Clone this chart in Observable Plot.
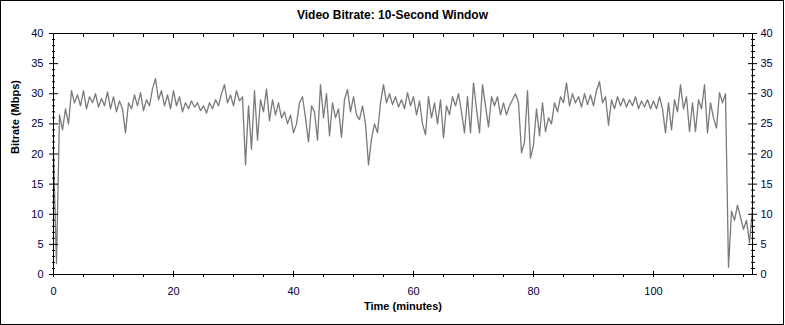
<!DOCTYPE html>
<html>
<head>
<meta charset="utf-8">
<script src="https://cdn.jsdelivr.net/npm/d3@7"></script>
<script src="https://cdn.jsdelivr.net/npm/@observablehq/plot@0.6"></script>
<style>
  html, body { margin: 0; padding: 0; background: #ffffff; }
  #wrap { position: relative; width: 785px; height: 325px; background: #ffffff; overflow: hidden;
          font-family: "Liberation Sans", Arial, sans-serif; }
  #border { position: absolute; left: 0; top: 0; width: 784px; height: 325px; box-sizing: border-box;
            border: 1px solid #000; pointer-events: none; }
  #title { position: absolute; left: 0; top: 7px; width: 785px; text-align: center;
           font: bold 12px "Liberation Sans", Arial, sans-serif; line-height: 16px; color: #000; }
  #chart { position: absolute; left: 0; top: 24px; }
</style>
</head>
<body>
<div id="wrap">
  <div id="title">Video Bitrate: 10-Second Window</div>
  <div id="chart"></div>
  <div id="border"></div>
</div>
<script>
// Sampling step of the read-off series (minutes)
const minutesStep = 0.5;

// Bitrate (Mbps), one value every 0.5 minute
const bitrate = [
  20, 1.8, 26.5, 24, 27.5, 25, 30.5, 28.5, 29.8, 28,
  30.5, 27.5, 29.5, 28.5, 30, 27.8, 29.2, 28, 30.3, 27.5,
  29.5, 27, 28.8, 27.5, 23.5, 28.5, 27.5, 29.8, 28, 30.2,
  27.2, 29, 28, 30.8, 32.5, 29, 30.5, 28, 29.8, 27.5,
  30.5, 28, 29.5, 27, 28.5, 27.5, 28.8, 27.8, 28.5, 27.2,
  28, 26.8, 28.5, 27.5, 29, 28, 30, 31.5, 28.5, 29.8,
  28, 30.5, 28.8, 29.5, 18.2, 28, 20.8, 30.5, 22.3, 29,
  27, 30.8, 25.5, 29, 26.5, 28.5, 26, 27, 25, 26.5,
  23.5, 25, 28.5, 29.5, 26, 22, 28, 27, 22.3, 31.5,
  26, 30, 23, 28.5, 26, 27.5, 22.8, 29, 30.7, 27,
  29.5, 26.5, 25.7, 28, 25, 18.2, 22.5, 25, 23.5, 28.5,
  31.5, 28.5, 30, 28.2, 29.5, 27.8, 29, 27.5, 30.2, 28,
  29.5, 26.5, 28.8, 25, 23.2, 29.5, 26, 28.5, 25, 29,
  22.7, 28, 26.5, 29.5, 28, 30, 27, 23.5, 29.5, 23.5,
  31.8, 27.5, 23.5, 31.5, 28, 24.5, 29.5, 28, 29.5, 26.5,
  28.5, 26.5, 28, 29, 30, 28.5, 20.2, 22, 30.5, 19.3,
  21.5, 27.5, 23, 28.5, 23.7, 26, 25, 28.5, 27, 29.5,
  28.5, 31.8, 28, 30, 28.5, 29.5, 27.8, 30, 28.2, 29.8,
  28, 30.5, 32, 28.5, 29.5, 24.8, 29, 27.5, 29.5, 28,
  29.2, 27.8, 29, 28, 29.5, 27.5, 28.8, 27.8, 29, 27.5,
  28.8, 27.5, 29.5, 27.5, 23.5, 28.5, 24, 29, 27, 31.5,
  27.5, 29.5, 23.7, 28.5, 23.7, 29, 27.5, 31.5, 23.5, 28.5,
  26, 24.3, 30.2, 28.5, 30, 1.2, 10.5, 9, 11.5, 9.5,
  7.5, 9, 5.3, 11
];

// Axis ticks
const xMajorTicks = [0, 20, 40, 60, 80, 100];
const xMinorTicks = [5, 10, 15, 25, 30, 35, 45, 50, 55, 65, 70, 75, 85, 90, 95, 105, 110, 115];
const yMajorTicks = [0, 5, 10, 15, 20, 25, 30, 35, 40];
const yMinorTicks = [1, 2, 3, 4, 6, 7, 8, 9, 11, 12, 13, 14, 16, 17, 18, 19, 21, 22, 23, 24,
                     26, 27, 28, 29, 31, 32, 33, 34, 36, 37, 38, 39];

const xLabel = "Time (minutes)";
const yLabel = "Bitrate (Mbps)";

const data = bitrate.map((v, i) => ({minute: i * minutesStep, mbps: v}));

const labelColor = "#000040";
const blank = () => "";

const chart = Plot.plot({
  width: 785,
  height: 301,
  marginLeft: 53,
  marginRight: 33,
  marginTop: 9,
  marginBottom: 51,
  style: {background: "#ffffff", fontFamily: "'Liberation Sans', Arial, sans-serif", fontSize: "11px", color: "#000"},
  x: {domain: [0, 116.5], label: null},
  y: {domain: [0, 40], label: null},
  marks: [
    Plot.lineY(data, {x: "minute", y: "mbps", stroke: "#7a7a7a", strokeWidth: 1.3}),
    Plot.frame({stroke: "#000"}),
    // bottom axis ticks
    Plot.axisX({anchor: "bottom", ticks: xMajorTicks, tickSize: 6, dy: -3, tickFormat: blank, label: null, stroke: "#000"}),
    Plot.axisX({anchor: "bottom", ticks: xMinorTicks, tickSize: 3, tickFormat: blank, label: null, stroke: "#000"}),
    Plot.axisX({anchor: "bottom", ticks: xMajorTicks, tickSize: 0, tickPadding: 13, label: null, fill: labelColor}),
    // top axis ticks (inward)
    Plot.axisX({anchor: "top", ticks: xMajorTicks, tickSize: 4, dy: 4, tickFormat: blank, label: null, stroke: "#000"}),
    Plot.axisX({anchor: "top", ticks: xMinorTicks, tickSize: 3, dy: 3, tickFormat: blank, label: null, stroke: "#000"}),
    // left axis
    Plot.axisY({anchor: "left", ticks: yMajorTicks, tickSize: 9, dx: 5, tickFormat: blank, label: null, stroke: "#000"}),
    Plot.axisY({anchor: "left", ticks: yMinorTicks, tickSize: 3, dx: 2, tickFormat: blank, label: null, stroke: "#000"}),
    Plot.axisY({anchor: "left", ticks: yMajorTicks, tickSize: 0, tickPadding: 10, label: null, fill: labelColor}),
    // right axis
    Plot.axisY({anchor: "right", ticks: yMajorTicks, tickSize: 9, dx: -5, tickFormat: blank, label: null, stroke: "#000"}),
    Plot.axisY({anchor: "right", ticks: yMinorTicks, tickSize: 4, dx: -2, tickFormat: blank, label: null, stroke: "#000"}),
    Plot.axisY({anchor: "right", ticks: yMajorTicks, tickSize: 0, tickPadding: 8, label: null, fill: labelColor}),
    // axis titles
    Plot.text([xLabel], {frameAnchor: "bottom", dy: 35, text: d => d, fontWeight: "bold", fontSize: 11, fill: "#000"}),
    Plot.text([yLabel], {frameAnchor: "left", dx: -38, rotate: -90, text: d => d, fontWeight: "bold", fontSize: 11, fill: "#000"})
  ]
});

document.getElementById("chart").appendChild(chart);
</script>
</body>
</html>
